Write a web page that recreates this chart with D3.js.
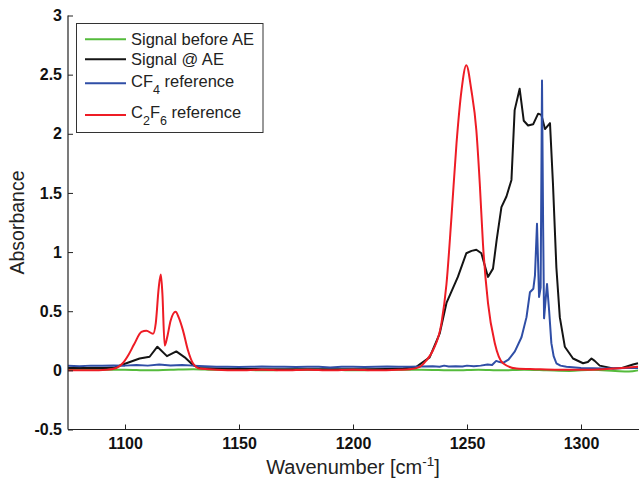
<!DOCTYPE html>
<html>
<head>
<meta charset="utf-8">
<script src="https://cdn.jsdelivr.net/npm/d3@7/dist/d3.min.js"></script>
<style>
  html, body { margin: 0; padding: 0; background: #fff; }
  svg { display: block; font-family: "Liberation Sans", Arial, Helvetica, sans-serif; }
</style>
</head>
<body>
<svg id="chart" width="639" height="481"></svg>
<script>
// FTIR absorbance spectra around the CF4 / C2F6 bands
const xTicks = [1100, 1150, 1200, 1250, 1300];
const yTicks = [-0.5, 0, 0.5, 1, 1.5, 2, 2.5, 3];
const yTickLabels = ["-0.5", "0", "0.5", "1", "1.5", "2", "2.5", "3"];

const seriesNames = ["Signal before AE", "Signal @ AE", "CF4 reference", "C2F6 reference"];
const seriesColors = ["#55bb3c", "#141414", "#2f4ea6", "#ee1c25"];

// Signal before AE
const beforeWn  = [1075, 1090, 1100, 1110, 1120, 1130, 1140, 1150, 1160, 1175, 1190, 1200, 1215, 1230, 1245, 1255, 1265, 1275, 1285, 1295, 1305, 1315, 1321, 1325];
const beforeAbs = [0.01, 0.005, 0.005, 0.0, 0.005, 0.01, 0.005, 0.005, 0.0, 0.005, 0.005, 0.0, 0.005, 0.005, 0.0, 0.005, 0.0, 0.005, 0.0, -0.005, 0.005, -0.005, -0.01, 0.0];

// Signal @ AE
const atAeWn  = [1075, 1085, 1092, 1095.5, 1100.6, 1106.4, 1110.8, 1114.2, 1118.4, 1122.5, 1126.2, 1129.8, 1132.8, 1140, 1150, 1160, 1175, 1190, 1205, 1215, 1222, 1227.8, 1233.6, 1238, 1241, 1243.5, 1246, 1249.7, 1252, 1254.1, 1256.3, 1259.2, 1261.4, 1263, 1265.1, 1267.3, 1269.5, 1270.9, 1273.1, 1274.9, 1276.8, 1279, 1281.2, 1282.6, 1284.2, 1286.4, 1287.7, 1289.2, 1290.7, 1292.9, 1296.5, 1300.9, 1303, 1304.6, 1306, 1308.2, 1314.1, 1318, 1322.8, 1325];
const atAeAbs = [0.02, 0.02, 0.02, 0.025, 0.06, 0.10, 0.115, 0.20, 0.12, 0.16, 0.11, 0.045, 0.02, 0.015, 0.012, 0.01, 0.01, 0.01, 0.01, 0.012, 0.015, 0.03, 0.11, 0.31, 0.57, 0.68, 0.79, 0.99, 1.01, 1.02, 0.99, 0.79, 0.86, 1.10, 1.38, 1.47, 1.61, 2.20, 2.38, 2.11, 2.07, 2.08, 2.17, 2.16, 2.04, 2.09, 1.58, 0.87, 0.45, 0.20, 0.10, 0.06, 0.07, 0.10, 0.08, 0.04, 0.015, 0.02, 0.05, 0.06];

// CF4 reference
const cf4Wn  = [1075, 1080, 1085, 1090, 1095, 1100, 1105, 1110, 1115, 1120, 1125, 1130, 1135, 1140, 1145, 1150, 1155, 1160, 1165, 1170, 1175, 1180, 1185, 1190, 1195, 1200, 1205, 1210, 1215, 1220, 1225, 1230, 1235, 1238, 1240, 1242, 1245, 1248, 1250, 1253, 1256, 1259, 1261, 1262.8, 1264.3, 1266, 1268.2, 1271, 1273.9, 1276.1, 1277.6, 1279.1, 1279.8, 1280.7, 1281.6, 1282.3, 1282.9, 1283.4, 1283.8, 1284.5, 1285.1, 1286, 1287, 1288, 1289.2, 1291, 1293.6, 1300, 1310, 1320, 1325];
const cf4Abs = [0.04, 0.035, 0.04, 0.038, 0.042, 0.04, 0.045, 0.04, 0.05, 0.042, 0.045, 0.04, 0.035, 0.03, 0.03, 0.028, 0.03, 0.032, 0.03, 0.03, 0.028, 0.03, 0.03, 0.025, 0.03, 0.03, 0.028, 0.03, 0.032, 0.03, 0.03, 0.032, 0.035, 0.03, 0.04, 0.032, 0.035, 0.032, 0.04, 0.035, 0.04, 0.05, 0.045, 0.08, 0.07, 0.065, 0.09, 0.16, 0.28, 0.45, 0.66, 0.69, 0.80, 1.24, 0.62, 0.70, 2.45, 1.20, 0.44, 0.60, 0.73, 0.51, 0.23, 0.12, 0.06, 0.04, 0.03, 0.02, 0.015, 0.02, 0.02];

// C2F6 reference
const c2f6Wn  = [1075, 1085, 1092, 1096.2, 1099, 1101.5, 1104, 1107.2, 1109.4, 1112.3, 1113.5, 1114.8, 1115.7, 1116.4, 1117.4, 1118.5, 1120, 1122.2, 1123.5, 1125.4, 1127.6, 1129.8, 1132.8, 1140, 1150, 1160, 1170, 1180, 1190, 1200, 1210, 1220, 1225, 1229.3, 1232, 1235.1, 1238.8, 1241, 1243.2, 1245.4, 1247.6, 1249.7, 1251.9, 1254.1, 1255.6, 1257, 1259.2, 1262.2, 1265.8, 1271.7, 1280, 1290, 1300, 1310, 1318, 1325];
const c2f6Abs = [0.0, 0.0, 0.005, 0.02, 0.06, 0.13, 0.22, 0.325, 0.335, 0.31, 0.40, 0.70, 0.81, 0.65, 0.21, 0.28, 0.42, 0.495, 0.45, 0.34, 0.17, 0.06, 0.015, 0.005, 0.0, 0.005, 0.0, 0.005, 0.0, 0.005, 0.0, 0.005, 0.01, 0.03, 0.08, 0.17, 0.40, 0.73, 1.30, 1.92, 2.37, 2.58, 2.37, 2.03, 1.58, 1.07, 0.57, 0.23, 0.06, 0.016, 0.01, 0.005, 0.005, 0.01, 0.02, 0.03];

const series = [
  { name: seriesNames[0], color: seriesColors[0], wn: beforeWn, abs: beforeAbs, curve: d3.curveMonotoneX },
  { name: seriesNames[1], color: seriesColors[1], wn: atAeWn,  abs: atAeAbs,  curve: d3.curveLinear },
  { name: seriesNames[2], color: seriesColors[2], wn: cf4Wn,   abs: cf4Abs,   curve: d3.curveLinear },
  { name: seriesNames[3], color: seriesColors[3], wn: c2f6Wn,  abs: c2f6Abs,  curve: d3.curveMonotoneX }
];

const svg = d3.select("#chart");
const plotLeft = 68, plotRight = 638, plotTop = 15.5, plotBottom = 429.5;

const x = d3.scaleLinear().domain([1075, 1325]).range([plotLeft, plotRight]);
const y = d3.scaleLinear().domain([-0.5, 3]).range([plotBottom, plotTop]);

svg.append("defs").append("clipPath").attr("id", "plotClip")
  .append("rect").attr("x", plotLeft).attr("y", plotTop - 2)
  .attr("width", plotRight - plotLeft + 2).attr("height", plotBottom - plotTop + 2);

// spectra
const plot = svg.append("g").attr("clip-path", "url(#plotClip)");
series.forEach(s => {
  const pts = s.wn.map((w, i) => [w, s.abs[i]]);
  const line = d3.line().x(d => x(d[0])).y(d => y(d[1])).curve(s.curve);
  plot.append("path")
    .attr("d", line(pts))
    .attr("fill", "none")
    .attr("stroke", s.color)
    .attr("stroke-width", 2)
    .attr("stroke-linejoin", "round");
});

// axes (ticks pointing inward)
const xAxis = d3.axisBottom(x).tickValues(xTicks).tickFormat(d3.format("d"))
  .tickSizeInner(-5).tickSizeOuter(0).tickPadding(8);
const yAxis = d3.axisLeft(y).tickValues(yTicks).tickFormat((d, i) => yTickLabels[i])
  .tickSizeInner(-5).tickSizeOuter(0).tickPadding(6);

const gx = svg.append("g").attr("transform", `translate(0,${plotBottom})`).call(xAxis);
const gy = svg.append("g").attr("transform", `translate(${plotLeft},0)`).call(yAxis);

[gx, gy].forEach(g => {
  g.select(".domain").remove();
  g.selectAll(".tick line").attr("stroke", "#222").attr("stroke-width", 1);
  g.selectAll(".tick text")
    .attr("fill", "#111")
    .style("font-size", "16px")
    .style("font-weight", "bold")
    .style("font-family", "'Liberation Sans', Arial, sans-serif");
});

svg.append("line").attr("x1", plotLeft).attr("x2", plotLeft).attr("y1", plotTop).attr("y2", plotBottom)
  .attr("stroke", "#222").attr("stroke-width", 1.2);
svg.append("line").attr("x1", plotLeft).attr("x2", 639).attr("y1", plotBottom).attr("y2", plotBottom)
  .attr("stroke", "#222").attr("stroke-width", 1.2);

// axis titles
const xTitle = svg.append("text")
  .attr("x", (plotLeft + plotRight) / 2).attr("y", 474)
  .attr("text-anchor", "middle")
  .attr("fill", "#222")
  .style("font-size", "20px");
xTitle.append("tspan").text("Wavenumber [cm");
xTitle.append("tspan").attr("dy", -8).style("font-size", "13.5px").text("-1");
xTitle.append("tspan").attr("dy", 8).text("]");

svg.append("text")
  .attr("transform", `translate(24,${(plotTop + plotBottom) / 2}) rotate(-90)`)
  .attr("text-anchor", "middle")
  .attr("fill", "#222")
  .style("font-size", "19.5px")
  .text("Absorbance");

// legend
const legend = svg.append("g");
legend.append("rect")
  .attr("x", 76.5).attr("y", 23.5).attr("width", 186.5).attr("height", 109)
  .attr("fill", "#fff").attr("stroke", "#333").attr("stroke-width", 1);

const lineY = [39.3, 59.3, 83.3, 115];
const textY = [45, 65, 87.3, 118.3];
series.forEach((s, i) => {
  legend.append("line")
    .attr("x1", 85).attr("x2", 126)
    .attr("y1", lineY[i]).attr("y2", lineY[i])
    .attr("stroke", s.color).attr("stroke-width", 2);
});

function addLegendText(i, parts) {
  const t = legend.append("text")
    .attr("x", 131).attr("y", textY[i])
    .attr("fill", "#222")
    .style("font-size", "16.5px");
  let shift = 0;
  parts.forEach(p => {
    const sp = t.append("tspan").text(p.text);
    const target = p.sub ? 7 : 0;
    if (target !== shift) { sp.attr("dy", target - shift); shift = target; }
    if (p.sub) sp.style("font-size", "12.5px");
  });
}
addLegendText(0, [{ text: "Signal before AE" }]);
addLegendText(1, [{ text: "Signal @ AE" }]);
addLegendText(2, [{ text: "CF" }, { text: "4", sub: true }, { text: " reference" }]);
addLegendText(3, [{ text: "C" }, { text: "2", sub: true }, { text: "F" }, { text: "6", sub: true }, { text: " reference" }]);
</script>
</body>
</html>
